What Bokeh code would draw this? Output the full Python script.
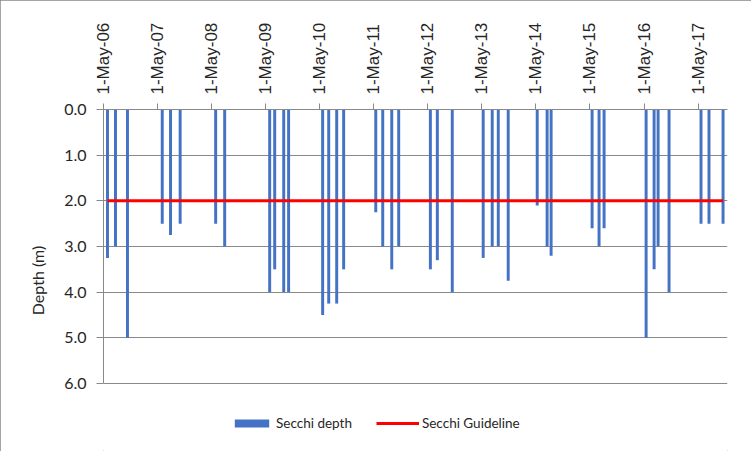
import math
import pandas as pd
from bokeh.plotting import figure
from bokeh.models import Range1d, FixedTicker, Legend, LegendItem, PrintfTickFormatter
from bokeh.embed import file_html
from bokeh.resources import INLINE

# ---- data ----
sample_dates = [
    "2006-05-28", "2006-07-21", "2006-10-10",
    "2007-06-02", "2007-07-28", "2007-10-01",
    "2008-05-28", "2008-07-28",
    "2009-05-28", "2009-07-01", "2009-08-31", "2009-10-03",
    "2010-05-21", "2010-07-01", "2010-08-24", "2010-10-10",
    "2011-05-15", "2011-07-01", "2011-08-31", "2011-10-17",
    "2012-05-18", "2012-07-04", "2012-10-13",
    "2013-05-10", "2013-07-10", "2013-08-20", "2013-10-26",
    "2014-05-10", "2014-07-16", "2014-08-12",
    "2015-05-16", "2015-07-02", "2015-08-05",
    "2016-05-15", "2016-07-08", "2016-08-04", "2016-10-17",
    "2017-05-21", "2017-07-14", "2017-10-17",
]
secchi_depth = [
    3.25, 3.0, 5.0,
    2.5, 2.75, 2.5,
    2.5, 3.0,
    4.0, 3.5, 4.0, 4.0,
    4.5, 4.25, 4.25, 3.5,
    2.25, 3.0, 3.5, 3.0,
    3.5, 3.3, 4.0,
    3.25, 3.0, 3.0, 3.75,
    2.1, 3.0, 3.2,
    2.6, 3.0, 2.6,
    5.0, 3.5, 3.0, 4.0,
    2.5, 2.5, 2.5,
]
guideline_value = 2.0
tick_dates = ["2006-05-01", "2007-05-01", "2008-05-01", "2009-05-01", "2010-05-01", "2011-05-01",
              "2012-05-01", "2013-05-01", "2014-05-01", "2015-05-01", "2016-05-01", "2017-05-01"]
tick_labels = ["1-May-06", "1-May-07", "1-May-08", "1-May-09", "1-May-10", "1-May-11",
               "1-May-12", "1-May-13", "1-May-14", "1-May-15", "1-May-16", "1-May-17"]
depth_ticks = [0, 1, 2, 3, 4, 5, 6]
x_start, x_end = "2006-05-01", "2017-11-16"

# ---- helpers ----
def ms(d):
    return pd.Timestamp(d).value / 1e6

dates_ms = [ms(d) for d in sample_dates]
tick_ms = [ms(d) for d in tick_dates]

BLUE = "#4472C4"
RED = "#FF0000"
GRID = "#898989"
TEXT = "#262626"

# frame runs to the bottom edge so the legend can sit inside it;
# axis is bounded to 0..6 (6.0 at y=383 px, 0.0 at y=109 px)
Y_BOTTOM = 6 * (451 - 109) / (383 - 109)

p = figure(width=751, height=451, output_backend="svg", toolbar_location=None,
           x_axis_type="datetime", x_axis_location="above",
           x_range=Range1d(ms(x_start), ms(x_end)),
           y_range=Range1d(Y_BOTTOM, 0),
           min_border_left=103, min_border_top=109, min_border_right=24, min_border_bottom=0)
p.outline_line_color = None
p.background_fill_color = "white"
p.border_fill_color = "white"
p.styles = {"outline": "1px solid #878787", "outline-offset": "-1px"}

bars = p.vbar(x=dates_ms, top=secchi_depth, bottom=0, width=20 * 86400000,
              fill_color=BLUE, line_color=None)
guide = p.line(x=[dates_ms[0], dates_ms[-1]], y=[guideline_value, guideline_value],
               line_color=RED, line_width=3)

# x axis (top)
xa = p.xaxis[0]
xa.ticker = FixedTicker(ticks=tick_ms)
xa.major_label_overrides = {t: l for t, l in zip(tick_ms, tick_labels)}
xa.major_label_orientation = math.pi / 2
xa.major_label_text_font = "Liberation Sans"
xa.major_label_text_font_size = "17px"
xa.major_label_text_color = TEXT
xa.major_label_standoff = 9
xa.axis_line_color = GRID
xa.major_tick_line_color = GRID
xa.major_tick_out = 6
xa.major_tick_in = 0
xa.minor_tick_line_color = None

# y axis
ya = p.yaxis[0]
ya.ticker = FixedTicker(ticks=depth_ticks)
ya.bounds = (0, 6)
ya.formatter = PrintfTickFormatter(format="%.1f")
ya.axis_label = "Depth (m)"
ya.axis_label_text_font = "Lato"
ya.axis_label_text_font_size = "16px"
ya.axis_label_text_font_style = "normal"
ya.axis_label_text_color = TEXT
ya.axis_label_standoff = 14
ya.major_label_text_font = "Lato"
ya.major_label_text_font_size = "16px"
ya.major_label_text_color = TEXT
ya.major_label_standoff = 10
ya.axis_line_color = GRID
ya.major_tick_line_color = GRID
ya.major_tick_out = 7
ya.major_tick_in = 0
ya.minor_tick_line_color = None

p.xgrid.grid_line_color = None
p.ygrid.grid_line_color = GRID
p.ygrid.grid_line_width = 1

legend = Legend(items=[LegendItem(label="Secchi depth", renderers=[bars]),
                       LegendItem(label="Secchi Guideline", renderers=[guide])],
                orientation="horizontal", location=(127, 20),
                glyph_width=43, glyph_height=10, label_standoff=3, spacing=24,
                padding=0, margin=0, border_line_color=None, background_fill_alpha=0,
                label_text_font="Lato", label_text_font_size="13.5px", label_text_color=TEXT)
p.add_layout(legend, "center")

open("out.html", "w").write(file_html(p, INLINE))
